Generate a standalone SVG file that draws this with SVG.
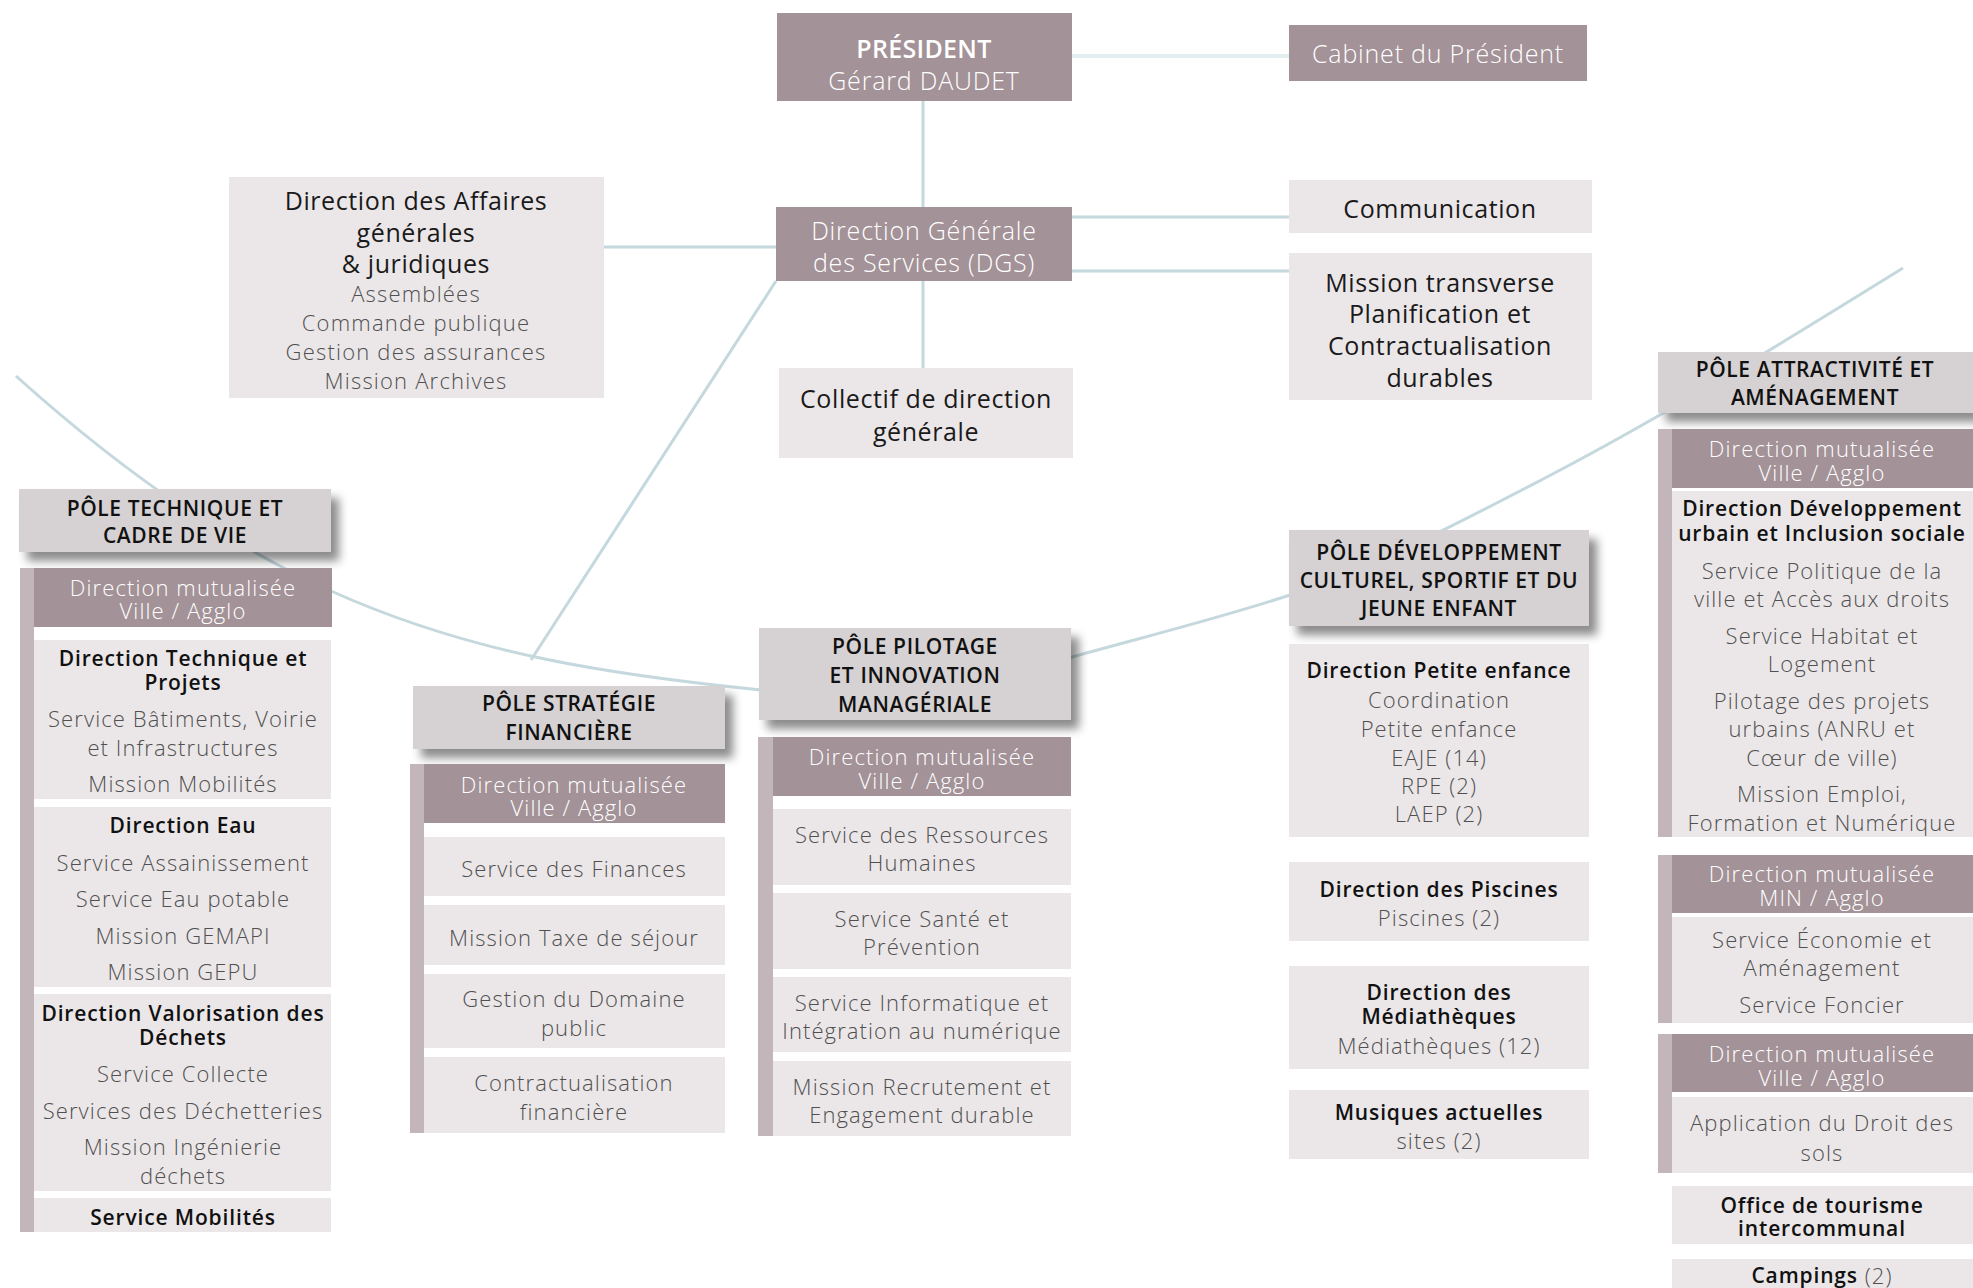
<svg xmlns="http://www.w3.org/2000/svg" width="1973" height="1288" viewBox="0 0 1973 1288">
<defs>
<style>
text{font-family:"Open Sans","Liberation Sans",sans-serif;text-anchor:middle;dominant-baseline:central}
.m{fill:#a39297}
.l{fill:#ebe7e8}
.p{fill:#d6d1d3}
.bar{fill:#c2b6bb}
.c{fill:none;stroke:#c4d8dd;stroke-width:3}
.tw{fill:#fff;font-size:25px;font-weight:300;letter-spacing:0.8px}
.twb{fill:#fff;font-size:25px;font-weight:600;letter-spacing:0.3px}
.tk{fill:#1a1a1a;font-size:25px;font-weight:400;letter-spacing:0.6px}
.tg{fill:#505050;font-size:22px;font-weight:300;letter-spacing:1.2px}
.h{fill:#111;font-size:21px;font-weight:600;letter-spacing:0.6px}
.b{fill:#111;font-size:21px;font-weight:600;letter-spacing:0.85px}
.g{fill:#505050;font-size:22px;font-weight:300;letter-spacing:1.1px}
.w{fill:#fff;font-size:22px;font-weight:300;letter-spacing:1.1px}
</style>
<filter id="sh" x="-10%" y="-20%" width="130%" height="170%">
<feDropShadow dx="8" dy="9" stdDeviation="5" flood-color="#000" flood-opacity="0.45"/>
</filter>
</defs>
<rect width="1973" height="1288" fill="#fff"/>

<g id="connectors">
<line x1="1072" y1="56" x2="1289" y2="56" stroke="#e2eef0" stroke-width="4"/>
<line class="c" x1="923" y1="101" x2="923" y2="207"/>
<line class="c" x1="604" y1="247" x2="776" y2="247" stroke-width="4"/>
<line class="c" x1="923" y1="281" x2="923" y2="368"/>
<line class="c" x1="1072" y1="217" x2="1289" y2="217"/>
<line class="c" x1="1072" y1="271" x2="1289" y2="271"/>
<line class="c" x1="776" y1="281" x2="531" y2="660" stroke-width="2.5"/>
<path class="c" stroke-width="2.5" d="M16 376 C121 470.5 226 543.8 331 591 C474.3 655.5 617.7 675.7 761 690 C864.7 700.4 968.3 686 1072 657 C1144.7 636.6 1217.3 619 1290 595 C1375 567 1460 522.2 1545 478 C1664.3 416 1783.7 342 1903 268"/>
</g>

<g id="president">
<rect class="m" x="777" y="13" width="295" height="88"/>
<text class="twb" x="924" y="48">PRÉSIDENT</text>
<text class="tw" x="924" y="80">Gérard DAUDET</text>
</g>
<g id="cabinet">
<rect class="m" x="1289" y="25" width="298" height="56"/>
<text class="tw" x="1438" y="53">Cabinet du Président</text>
</g>
<g id="dgs">
<rect class="m" x="776" y="207" width="296" height="74"/>
<text class="tw" x="924" y="230">Direction Générale</text>
<text class="tw" x="924" y="262">des Services (DGS)</text>
</g>
<g id="affaires">
<rect class="l" x="229" y="177" width="375" height="221"/>
<text class="tk" x="416" y="200">Direction des Affaires</text>
<text class="tk" x="416" y="232">générales</text>
<text class="tk" x="416" y="263">&amp; juridiques</text>
<text class="tg" x="416" y="293">Assemblées</text>
<text class="tg" x="416" y="322">Commande publique</text>
<text class="tg" x="416" y="351">Gestion des assurances</text>
<text class="tg" x="416" y="380">Mission Archives</text>
</g>
<g id="collectif">
<rect class="l" x="779" y="368" width="294" height="90"/>
<text class="tk" x="926" y="398">Collectif de direction</text>
<text class="tk" x="926" y="431">générale</text>
</g>
<g id="communication">
<rect class="l" x="1289" y="180" width="303" height="53"/>
<text class="tk" x="1440" y="208">Communication</text>
</g>
<g id="mission-transverse">
<rect class="l" x="1289" y="253" width="303" height="147"/>
<text class="tk" x="1440" y="282">Mission transverse</text>
<text class="tk" x="1440" y="313">Planification et</text>
<text class="tk" x="1440" y="345">Contractualisation</text>
<text class="tk" x="1440" y="377">durables</text>
</g>

<g id="pole-technique">
<rect class="p" x="19" y="489" width="312" height="63" filter="url(#sh)"/>
<text class="h" x="175" y="508">PÔLE TECHNIQUE ET</text>
<text class="h" x="175" y="535">CADRE DE VIE</text>
<rect class="bar" x="20" y="568" width="14" height="664"/>
<rect class="m" x="34" y="568" width="298" height="59"/>
<text class="w" x="183" y="587">Direction mutualisée</text>
<text class="w" x="183" y="610">Ville / Agglo</text>
<rect class="l" x="34" y="640" width="297" height="159"/>
<text class="b" x="183" y="658">Direction Technique et</text>
<text class="b" x="183" y="682">Projets</text>
<text class="g" x="183" y="718">Service Bâtiments, Voirie</text>
<text class="g" x="183" y="747">et Infrastructures</text>
<text class="g" x="183" y="783">Mission Mobilités</text>
<rect class="l" x="34" y="807" width="297" height="180"/>
<text class="b" x="183" y="825">Direction Eau</text>
<text class="g" x="183" y="862">Service Assainissement</text>
<text class="g" x="183" y="898">Service Eau potable</text>
<text class="g" x="183" y="935">Mission GEMAPI</text>
<text class="g" x="183" y="971">Mission GEPU</text>
<rect class="l" x="34" y="994" width="297" height="197"/>
<text class="b" x="183" y="1013">Direction Valorisation des</text>
<text class="b" x="183" y="1037">Déchets</text>
<text class="g" x="183" y="1073">Service Collecte</text>
<text class="g" x="183" y="1110">Services des Déchetteries</text>
<text class="g" x="183" y="1146">Mission Ingénierie</text>
<text class="g" x="183" y="1175">déchets</text>
<rect class="l" x="34" y="1198" width="297" height="34"/>
<text class="b" x="183" y="1217">Service Mobilités</text>
</g>

<g id="pole-strategie">
<rect class="p" x="413" y="686" width="312" height="63" filter="url(#sh)"/>
<text class="h" x="569" y="703">PÔLE STRATÉGIE</text>
<text class="h" x="569" y="732">FINANCIÈRE</text>
<rect class="bar" x="410" y="764" width="14" height="369"/>
<rect class="m" x="424" y="764" width="301" height="59"/>
<text class="w" x="574" y="784">Direction mutualisée</text>
<text class="w" x="574" y="807">Ville / Agglo</text>
<rect class="l" x="424" y="837" width="301" height="59"/>
<text class="g" x="574" y="868">Service des Finances</text>
<rect class="l" x="424" y="905" width="301" height="60"/>
<text class="g" x="574" y="937">Mission Taxe de séjour</text>
<rect class="l" x="424" y="974" width="301" height="74"/>
<text class="g" x="574" y="998">Gestion du Domaine</text>
<text class="g" x="574" y="1027">public</text>
<rect class="l" x="424" y="1057" width="301" height="76"/>
<text class="g" x="574" y="1082">Contractualisation</text>
<text class="g" x="574" y="1111">financière</text>
</g>

<g id="pole-pilotage">
<rect class="p" x="759" y="628" width="312" height="92" filter="url(#sh)"/>
<text class="h" x="915" y="646">PÔLE PILOTAGE</text>
<text class="h" x="915" y="675">ET INNOVATION</text>
<text class="h" x="915" y="704">MANAGÉRIALE</text>
<rect class="bar" x="758" y="737" width="15" height="399"/>
<rect class="m" x="773" y="737" width="298" height="59"/>
<text class="w" x="922" y="756">Direction mutualisée</text>
<text class="w" x="922" y="780">Ville / Agglo</text>
<rect class="l" x="773" y="809" width="298" height="76"/>
<text class="g" x="922" y="834">Service des Ressources</text>
<text class="g" x="922" y="862">Humaines</text>
<rect class="l" x="773" y="893" width="298" height="76"/>
<text class="g" x="922" y="918">Service Santé et</text>
<text class="g" x="922" y="946">Prévention</text>
<rect class="l" x="773" y="977" width="298" height="75"/>
<text class="g" x="922" y="1002">Service Informatique et</text>
<text class="g" x="922" y="1030">Intégration au numérique</text>
<rect class="l" x="773" y="1061" width="298" height="75"/>
<text class="g" x="922" y="1086">Mission Recrutement et</text>
<text class="g" x="922" y="1114">Engagement durable</text>
</g>

<g id="pole-developpement">
<rect class="p" x="1289" y="530" width="300" height="96" filter="url(#sh)"/>
<text class="h" x="1439" y="552">PÔLE DÉVELOPPEMENT</text>
<text class="h" x="1439" y="580">CULTUREL, SPORTIF ET DU</text>
<text class="h" x="1439" y="608">JEUNE ENFANT</text>
<rect class="l" x="1289" y="644" width="300" height="193"/>
<text class="b" x="1439" y="670">Direction Petite enfance</text>
<text class="g" x="1439" y="699">Coordination</text>
<text class="g" x="1439" y="728">Petite enfance</text>
<text class="g" x="1439" y="757">EAJE (14)</text>
<text class="g" x="1439" y="785">RPE (2)</text>
<text class="g" x="1439" y="813">LAEP (2)</text>
<rect class="l" x="1289" y="862" width="300" height="79"/>
<text class="b" x="1439" y="889">Direction des Piscines</text>
<text class="g" x="1439" y="917">Piscines (2)</text>
<rect class="l" x="1289" y="966" width="300" height="103"/>
<text class="b" x="1439" y="992">Direction des</text>
<text class="b" x="1439" y="1016">Médiathèques</text>
<text class="g" x="1439" y="1045">Médiathèques (12)</text>
<rect class="l" x="1289" y="1090" width="300" height="69"/>
<text class="b" x="1439" y="1112">Musiques actuelles</text>
<text class="g" x="1439" y="1140">sites (2)</text>
</g>

<g id="pole-attractivite">
<rect class="p" x="1658" y="352" width="315" height="61" filter="url(#sh)"/>
<text class="h" x="1815" y="369">PÔLE ATTRACTIVITÉ ET</text>
<text class="h" x="1815" y="397">AMÉNAGEMENT</text>
<rect class="bar" x="1658" y="429" width="14" height="408"/>
<rect class="m" x="1672" y="429" width="301" height="59"/>
<text class="w" x="1822" y="448">Direction mutualisée</text>
<text class="w" x="1822" y="472">Ville / Agglo</text>
<rect class="l" x="1672" y="491" width="301" height="346"/>
<text class="b" x="1822" y="508">Direction Développement</text>
<text class="b" x="1822" y="533">urbain et Inclusion sociale</text>
<text class="g" x="1822" y="570">Service Politique de la</text>
<text class="g" x="1822" y="598">ville et Accès aux droits</text>
<text class="g" x="1822" y="635">Service Habitat et</text>
<text class="g" x="1822" y="663">Logement</text>
<text class="g" x="1822" y="700">Pilotage des projets</text>
<text class="g" x="1822" y="728">urbains (ANRU et</text>
<text class="g" x="1822" y="757">Cœur de ville)</text>
<text class="g" x="1822" y="793">Mission Emploi,</text>
<text class="g" x="1822" y="822">Formation et Numérique</text>
<rect class="bar" x="1658" y="855" width="14" height="168"/>
<rect class="m" x="1672" y="855" width="301" height="58"/>
<text class="w" x="1822" y="873">Direction mutualisée</text>
<text class="w" x="1822" y="897">MIN / Agglo</text>
<rect class="l" x="1672" y="917" width="301" height="106"/>
<text class="g" x="1822" y="939">Service Économie et</text>
<text class="g" x="1822" y="967">Aménagement</text>
<text class="g" x="1822" y="1004">Service Foncier</text>
<rect class="bar" x="1658" y="1034" width="14" height="139"/>
<rect class="m" x="1672" y="1034" width="301" height="58"/>
<text class="w" x="1822" y="1053">Direction mutualisée</text>
<text class="w" x="1822" y="1077">Ville / Agglo</text>
<rect class="l" x="1672" y="1097" width="301" height="76"/>
<text class="g" x="1822" y="1122">Application du Droit des</text>
<text class="g" x="1822" y="1152">sols</text>
<rect class="l" x="1672" y="1186" width="301" height="58"/>
<text class="b" x="1822" y="1205">Office de tourisme</text>
<text class="b" x="1822" y="1228">intercommunal</text>
<rect class="l" x="1672" y="1259" width="301" height="40"/>
<text class="b" x="1822" y="1275">Campings<tspan class="g" font-size="21"> (2)</tspan></text>
</g>
</svg>
